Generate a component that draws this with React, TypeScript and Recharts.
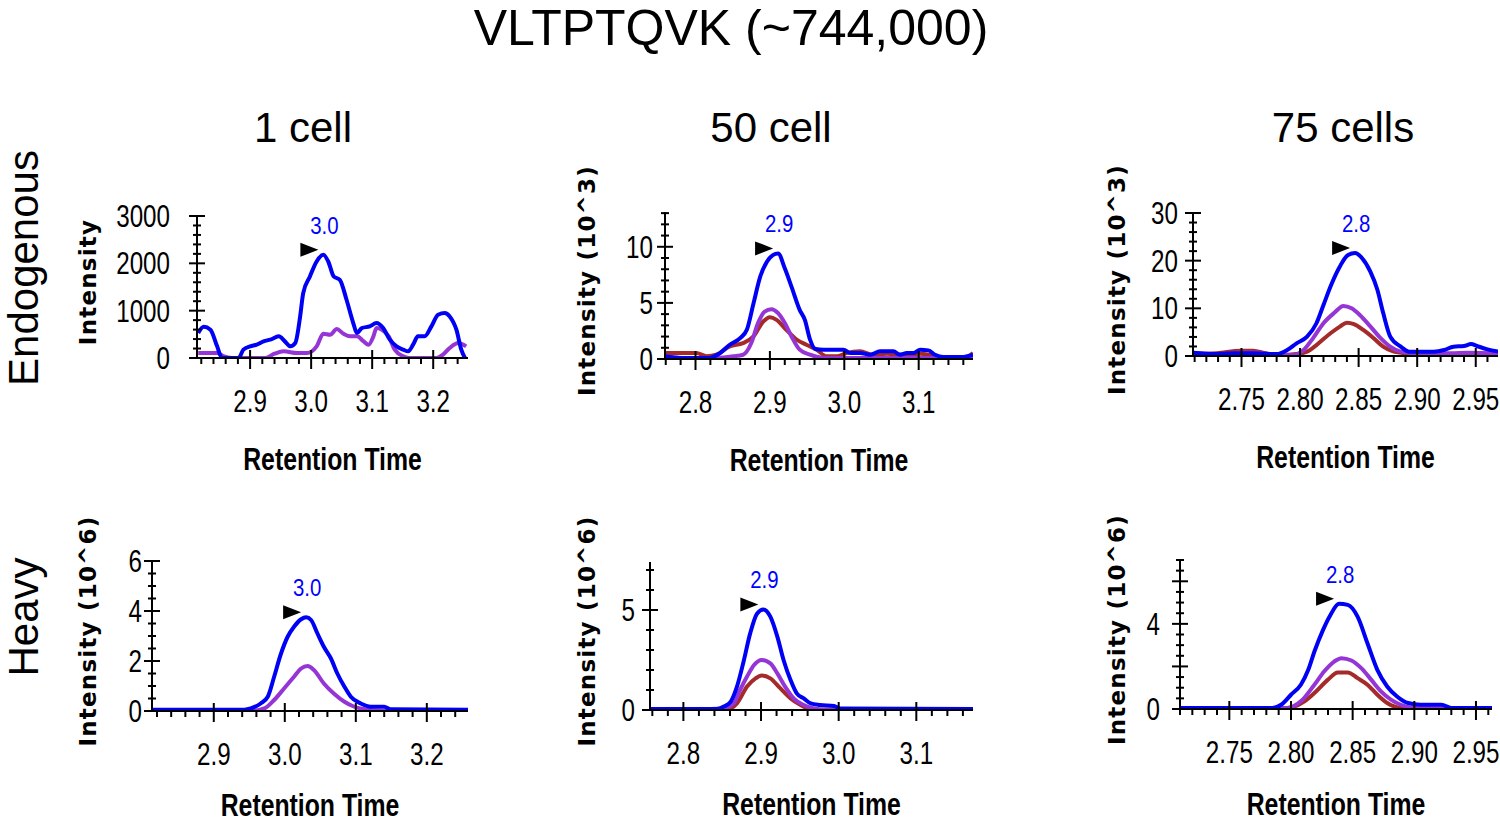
import React from 'react'
import { LineChart, Line, XAxis, YAxis, ReferenceDot } from 'recharts'

type Pt = [number, number]

// [retention time, intensity]
const END_1CELL_PURPLE: Pt[] = [
  [2.815, 105], [2.846, 105], [2.856, 40], [2.87, 0], [2.925, 0], [2.94, 90], [2.955, 141],
  [2.977, 105], [2.993, 105], [3.009, 246], [3.02, 513], [3.031, 492], [3.042, 611], [3.053, 513],
  [3.064, 457], [3.075, 457], [3.086, 351], [3.094, 281], [3.102, 457], [3.107, 633], [3.116, 598],
  [3.127, 457], [3.137, 176], [3.151, 35], [3.16, 0], [3.205, 0], [3.216, 70], [3.227, 211],
  [3.241, 316], [3.254, 246],
]
const END_1CELL_BLUE: Pt[] = [
  [2.815, 527], [2.824, 660], [2.835, 598], [2.846, 246], [2.854, 0], [2.881, 0], [2.889, 176],
  [2.9, 246], [2.911, 281], [2.922, 351], [2.933, 387], [2.947, 457], [2.957, 351], [2.966, 246],
  [2.974, 316], [2.982, 879], [2.987, 1371], [2.998, 1722], [3.009, 2039], [3.02, 2179],
  [3.028, 2039], [3.037, 1722], [3.047, 1652], [3.058, 1230], [3.069, 738], [3.075, 527],
  [3.083, 633], [3.096, 668], [3.107, 738], [3.118, 633], [3.129, 387], [3.14, 246], [3.151, 176],
  [3.159, 141], [3.167, 281], [3.175, 457], [3.186, 457], [3.197, 668], [3.208, 914], [3.219, 949],
  [3.227, 879], [3.238, 598], [3.246, 176], [3.252, 0],
]

const END_50CELL_RED: Pt[] = [
  [2.759, 0.53], [2.801, 0.53], [2.815, 0.24], [2.828, 0.38], [2.846, 1.12], [2.864, 1.42],
  [2.878, 2.01], [2.891, 3.34], [2.9, 3.73], [2.909, 3.49], [2.922, 2.6], [2.936, 1.72],
  [2.949, 1.27], [2.963, 0.83], [2.976, 0.24], [2.99, 0.24], [3.003, 0.53], [3.021, 0.68],
  [3.039, 0.38], [3.057, 0.47], [3.079, 0.38], [3.102, 0.47], [3.12, 0.3], [3.138, 0.1],
  [3.16, 0.1], [3.173, 0.53],
]
const END_50CELL_PURPLE: Pt[] = [
  [2.759, 0.24], [2.782, 0.1], [2.828, 0.1], [2.851, 0.24], [2.864, 0.38], [2.875, 1.42],
  [2.884, 3.2], [2.893, 4.23], [2.902, 4.44], [2.911, 4.08], [2.92, 3.2], [2.929, 2.01],
  [2.94, 0.83], [2.954, 0.38], [2.972, 0.1], [3.173, 0.1],
]
const END_50CELL_BLUE: Pt[] = [
  [2.759, 0.24], [2.779, 0.1], [2.819, 0.1], [2.833, 0.53], [2.846, 1.27], [2.86, 1.86],
  [2.869, 2.6], [2.878, 4.97], [2.887, 7.34], [2.896, 8.67], [2.904, 9.26], [2.911, 9.41],
  [2.92, 8.08], [2.929, 6.45], [2.94, 4.38], [2.947, 3.49], [2.954, 1.72], [2.961, 0.89],
  [2.972, 0.83], [2.999, 0.83], [3.008, 0.53], [3.021, 0.53], [3.035, 0.38], [3.048, 0.68],
  [3.066, 0.68], [3.075, 0.38], [3.084, 0.53], [3.093, 0.53], [3.102, 0.83], [3.113, 0.77],
  [3.122, 0.38], [3.133, 0.18], [3.16, 0.18], [3.173, 0.38],
]

const END_75CELL_RED: Pt[] = [
  [2.709, 0.4], [2.729, 0.56], [2.749, 1.12], [2.76, 1.12], [2.771, 0.56], [2.783, 0.2],
  [2.797, 0.4], [2.806, 0.91], [2.814, 2.3], [2.826, 4.77], [2.834, 6.17], [2.84, 7.0],
  [2.846, 6.7], [2.854, 5.47], [2.863, 3.7], [2.871, 1.96], [2.88, 0.91], [2.891, 0.56],
  [2.914, 0.4], [2.943, 0.4], [2.969, 0.56],
]
const END_75CELL_PURPLE: Pt[] = [
  [2.709, 0.56], [2.732, 0.4], [2.749, 0.7], [2.763, 0.7], [2.78, 0.2], [2.794, 0.2],
  [2.803, 1.26], [2.811, 3.7], [2.82, 6.87], [2.829, 9.0], [2.837, 10.5], [2.844, 10.0],
  [2.851, 8.6], [2.86, 6.2], [2.869, 3.7], [2.877, 1.96], [2.886, 0.91], [2.9, 0.56],
  [2.929, 0.56], [2.943, 0.7], [2.969, 0.56],
]
const END_75CELL_BLUE: Pt[] = [
  [2.709, 0.7], [2.726, 0.4], [2.743, 0.56], [2.76, 0.56], [2.78, 0.4], [2.789, 1.26],
  [2.797, 2.66], [2.806, 4.06], [2.814, 6.87], [2.82, 10.7], [2.826, 14.6], [2.834, 18.8],
  [2.841, 21.2], [2.847, 21.6], [2.853, 20.5], [2.86, 17.7], [2.866, 13.9], [2.871, 9.0],
  [2.877, 4.06], [2.886, 1.96], [2.893, 0.91], [2.914, 0.91], [2.923, 1.26], [2.931, 1.96],
  [2.94, 2.1], [2.946, 2.5], [2.951, 2.1], [2.96, 1.4], [2.969, 0.91],
]

const HEAVY_1CELL_PURPLE: Pt[] = [
  [2.813, 0], [2.952, 0], [2.971, 0.1], [2.985, 0.44], [2.999, 0.9], [3.013, 1.37], [3.023, 1.7],
  [3.032, 1.8], [3.041, 1.64], [3.055, 1.1], [3.069, 0.7], [3.084, 0.37], [3.098, 0.17],
  [3.112, 0.07], [3.14, 0], [3.259, 0],
]
const HEAVY_1CELL_BLUE: Pt[] = [
  [2.813, 0.05], [2.943, 0.05], [2.952, 0.1], [2.966, 0.3], [2.976, 0.57], [2.985, 1.37],
  [2.994, 2.24], [3.004, 2.97], [3.013, 3.37], [3.023, 3.67], [3.03, 3.75], [3.037, 3.64],
  [3.046, 3.1], [3.055, 2.57], [3.065, 2.1], [3.074, 1.5], [3.084, 0.97], [3.093, 0.57],
  [3.107, 0.3], [3.121, 0.17], [3.14, 0.17], [3.149, 0.07], [3.259, 0.05],
]

const HEAVY_50CELL_RED: Pt[] = [
  [2.758, 0], [2.856, 0.03], [2.869, 0.33], [2.882, 1.17], [2.893, 1.58], [2.901, 1.72],
  [2.912, 1.58], [2.925, 1.08], [2.938, 0.58], [2.951, 0.25], [2.964, 0.03], [3.173, 0],
]
const HEAVY_50CELL_PURPLE: Pt[] = [
  [2.758, 0], [2.852, 0.08], [2.865, 0.33], [2.873, 1.0], [2.882, 1.67], [2.891, 2.25],
  [2.901, 2.5], [2.912, 2.33], [2.921, 1.83], [2.931, 1.17], [2.942, 0.58], [2.955, 0.25],
  [2.968, 0.08], [2.98, 0], [3.173, 0],
]
const HEAVY_50CELL_BLUE: Pt[] = [
  [2.758, 0.05], [2.843, 0.05], [2.852, 0.17], [2.861, 0.42], [2.869, 1.17], [2.878, 2.5],
  [2.886, 3.83], [2.895, 4.83], [2.903, 5.03], [2.912, 4.67], [2.921, 3.67], [2.929, 2.5],
  [2.938, 1.5], [2.946, 0.83], [2.955, 0.58], [2.964, 0.33], [2.976, 0.25], [2.994, 0.2],
  [3.002, 0.08], [3.173, 0.05],
]

const HEAVY_75CELL_RED: Pt[] = [
  [2.71, 0], [2.797, 0.05], [2.811, 0.36], [2.819, 0.75], [2.83, 1.38], [2.838, 1.72],
  [2.846, 1.72], [2.854, 1.45], [2.862, 1.14], [2.87, 0.67], [2.878, 0.28], [2.889, 0.05],
  [2.963, 0],
]
const HEAVY_75CELL_PURPLE: Pt[] = [
  [2.71, 0], [2.797, 0.05], [2.808, 0.36], [2.819, 1.14], [2.827, 1.77], [2.835, 2.23],
  [2.841, 2.39], [2.849, 2.28], [2.857, 1.92], [2.865, 1.38], [2.873, 0.83], [2.881, 0.44],
  [2.889, 0.2], [2.9, 0.05], [2.963, 0],
]
const HEAVY_75CELL_BLUE: Pt[] = [
  [2.71, 0.05], [2.785, 0.05], [2.792, 0.2], [2.8, 0.67], [2.808, 1.14], [2.814, 1.84],
  [2.819, 2.7], [2.826, 3.72], [2.832, 4.42], [2.839, 4.94], [2.846, 4.89], [2.854, 4.34],
  [2.862, 3.09], [2.87, 1.84], [2.878, 1.06], [2.886, 0.59], [2.895, 0.28], [2.905, 0.2],
  [2.922, 0.2], [2.93, 0.05], [2.963, 0.05],
]

const TITLE = 'VLTPTQVK (~744,000)'
const COL_HEADERS = ['1 cell', '50 cell', '75 cells']
const ROW_LABELS = ['Endogenous', 'Heavy']
const PEAK_LABELS = ['3.0', '2.9', '2.8', '3.0', '2.9', '2.8']
const Y_TITLES = [
  'Intensity', 'Intensity (10^3)', 'Intensity (10^3)',
  'Intensity (10^6)', 'Intensity (10^6)', 'Intensity (10^6)',
]
const X_TITLE = 'Retention Time'

const X_MAJOR_A = [2.9, 3.0, 3.1, 3.2]
const X_MAJOR_B = [2.8, 2.9, 3.0, 3.1]
const X_MAJOR_C = [2.75, 2.8, 2.85, 2.9, 2.95]
const Y_MAJOR = [[0, 1000, 2000, 3000], [0, 5, 10], [0, 10, 20, 30], [0, 2, 4, 6], [0, 5], [0, 2, 4, 6]]
const Y_LABELED = [[0, 1000, 2000, 3000], [0, 5, 10], [0, 10, 20, 30], [0, 2, 4, 6], [0, 5], [0, 4]]

const COLORS: Record<string, string> = {
  red: '#A52A2A',
  purple: '#9635D6',
  blue: '#0000F5',
}

const FONT = "'Liberation Sans', Arial, sans-serif"
const BOLD_WIDE = "'DejaVu Sans', Verdana, sans-serif"

const PAD_L = 130
const PAD_T = 75
const PAD_R = 12
const PAD_B = 125

// plot rectangles in page pixels + axis setup
const PANELS = [
  { x0: 197, x1: 468, y0: 216, y1: 358, xDomain: [2.813, 3.257], xMinor: [2.82, 3.24, 0.02], xMajor: X_MAJOR_A, xDigits: 1, yMax: 3000, yStep: 200, yGap: 27, yTitleX: 96, xTitleDy: 112,
    series: [[END_1CELL_PURPLE, 'purple'], [END_1CELL_BLUE, 'blue']] },
  { x0: 665, x1: 973, y0: 212, y1: 359, xDomain: [2.759, 3.173], xMinor: [2.76, 3.16, 0.02], xMajor: X_MAJOR_B, xDigits: 1, yMax: 13.1, yStep: 1, yGap: 12, yTitleX: 595, xTitleDy: 112,
    series: [[END_50CELL_RED, 'red'], [END_50CELL_PURPLE, 'purple'], [END_50CELL_BLUE, 'blue']] },
  { x0: 1193, x1: 1498, y0: 213, y1: 356, xDomain: [2.7086, 2.969], xMinor: [2.71, 2.96, 0.01], xMajor: X_MAJOR_C, xDigits: 2, yMax: 30, yStep: 2, yGap: 15, yTitleX: 1125, xTitleDy: 112,
    series: [[END_75CELL_RED, 'red'], [END_75CELL_PURPLE, 'purple'], [END_75CELL_BLUE, 'blue']] },
  { x0: 152, x1: 468, y0: 561, y1: 711, xDomain: [2.813, 3.258], xMinor: [2.82, 3.24, 0.02], xMajor: X_MAJOR_A, xDigits: 1, yMax: 6, yStep: 0.5, yGap: 10, yTitleX: 96, xTitleDy: 105,
    series: [[HEAVY_1CELL_PURPLE, 'purple'], [HEAVY_1CELL_BLUE, 'blue']] },
  { x0: 650, x1: 973, y0: 562, y1: 710, xDomain: [2.757, 3.173], xMinor: [2.76, 3.16, 0.02], xMajor: X_MAJOR_B, xDigits: 1, yMax: 7.4, yStep: 1, yGap: 15, yTitleX: 595, xTitleDy: 105,
    series: [[HEAVY_50CELL_RED, 'red'], [HEAVY_50CELL_PURPLE, 'purple'], [HEAVY_50CELL_BLUE, 'blue']] },
  { x0: 1180, x1: 1492, y0: 560, y1: 709, xDomain: [2.71, 2.963], xMinor: [2.71, 2.96, 0.01], xMajor: X_MAJOR_C, xDigits: 2, yMax: 7, yStep: 0.5, yGap: 20, yTitleX: 1125, xTitleDy: 106,
    series: [[HEAVY_75CELL_RED, 'red'], [HEAVY_75CELL_PURPLE, 'purple'], [HEAVY_75CELL_BLUE, 'blue']] },
]

const steps = (from: number, to: number, step: number) => {
  const out: number[] = []
  const n = Math.round((to - from) / step)
  for (let i = 0; i <= n; i++) out.push(Math.round((from + i * step) * 1000) / 1000)
  return out
}
const has = (list: number[], v: number) => list.some((m) => Math.abs(m - v) < 1e-6)

const NarrowText = ({ x, y, size, anchor = 'middle', bold = false, fill = '#000', sx = 0.78, children }: any) => (
  <text
    transform={`translate(${x},${y}) scale(${sx},1)`}
    textAnchor={anchor}
    fontSize={size}
    fontFamily={FONT}
    fontWeight={bold ? 700 : 400}
    fill={fill}
  >
    {children}
  </text>
)

const XTick = ({ x, y, payload, majors, digits }: any) => {
  const v = payload.value
  const major = has(majors, v)
  return (
    <g>
      {major
        ? <line x1={x} x2={x} y1={y - 8} y2={y + 11} stroke="#000" strokeWidth={2} />
        : <line x1={x} x2={x} y1={y} y2={y + 6} stroke="#000" strokeWidth={2} />}
      {major && <NarrowText x={x} y={y + 54} size={31}>{v.toFixed(digits)}</NarrowText>}
    </g>
  )
}

const YTick = ({ x, y, payload, majors, labeled, gap }: any) => {
  const v = payload.value
  const major = has(majors, v)
  const w = major ? 8 : 4
  return (
    <g>
      <line x1={x - w} x2={x + w} y1={y} y2={y} stroke="#000" strokeWidth={2} />
      {has(labeled, v) && (
        <NarrowText x={x - gap} y={y + 11} size={31} anchor="end">{String(v)}</NarrowText>
      )}
    </g>
  )
}

const PeakMark = ({ cx, cy, text }: any) => (
  <g>
    <polygon points={`${cx - 23},${cy - 12} ${cx - 5},${cy - 5} ${cx - 23},${cy + 2}`} fill="#000" />
    <NarrowText x={cx + 1} y={cy - 21} size={24} sx={0.85} fill="#0000FF">{text}</NarrowText>
  </g>
)

const Panel = ({ idx }: { idx: number }) => {
  const p: any = PANELS[idx]
  const width = p.x1 - p.x0 + PAD_L + PAD_R
  const height = p.y1 - p.y0 + PAD_T + PAD_B
  const blue: Pt[] = p.series[p.series.length - 1][0]
  const peak = blue.reduce((a: Pt, b: Pt) => (b[1] > a[1] ? b : a))
  const yTicks = steps(0, Math.floor(p.yMax / p.yStep) * p.yStep, p.yStep)
  const xTicks = steps(p.xMinor[0], p.xMinor[1], p.xMinor[2])
  const yTitleOffset = p.x0 - p.yTitleX

  return (
    <div style={{ position: 'absolute', left: p.x0 - PAD_L, top: p.y0 - PAD_T }}>
      <LineChart width={width} height={height} margin={{ top: PAD_T, right: PAD_R, bottom: 0, left: 0 }}>
        <XAxis
          type="number"
          dataKey="t"
          domain={p.xDomain}
          allowDataOverflow
          ticks={xTicks}
          interval={0}
          height={PAD_B}
          tickSize={0}
          tickMargin={0}
          tickLine={false}
          axisLine={{ stroke: '#000', strokeWidth: 2 }}
          tick={(props: any) => <XTick {...props} majors={p.xMajor} digits={p.xDigits} />}
          label={(props: any) => {
            const vb = props.viewBox
            return (
              <NarrowText x={vb.x + vb.width / 2} y={vb.y + p.xTitleDy} size={31} sx={0.8} bold>
                {X_TITLE}
              </NarrowText>
            )
          }}
        />
        <YAxis
          type="number"
          dataKey="v"
          domain={[0, p.yMax]}
          allowDataOverflow
          ticks={yTicks}
          interval={0}
          width={PAD_L}
          tickSize={0}
          tickMargin={0}
          tickLine={false}
          axisLine={{ stroke: '#000', strokeWidth: 2 }}
          tick={(props: any) => (
            <YTick {...props} majors={Y_MAJOR[idx]} labeled={Y_LABELED[idx]} gap={p.yGap} />
          )}
          label={(props: any) => {
            const vb = props.viewBox
            const bx = vb.x + vb.width - yTitleOffset
            const cy = vb.y + vb.height / 2 - 5
            return (
              <text
                transform={`translate(${bx},${cy}) rotate(-90)`}
                textAnchor="middle"
                fontSize={23}
                fontWeight={700}
                letterSpacing={1.2}
                fontFamily={BOLD_WIDE}
                fill="#000"
              >
                {Y_TITLES[idx]}
              </text>
            )
          }}
        />
        {p.series.map(([pts, color]: [Pt[], string]) => (
          <Line
            key={color}
            data={pts.map(([t, v]) => ({ t, v }))}
            dataKey="v"
            type="monotone"
            stroke={COLORS[color]}
            strokeWidth={4}
            strokeLinejoin="round"
            dot={false}
            activeDot={false}
            isAnimationActive={false}
          />
        ))}
        <ReferenceDot
          x={peak[0]}
          y={peak[1]}
          r={0}
          ifOverflow="visible"
          shape={(props: any) => <PeakMark {...props} text={PEAK_LABELS[idx]} />}
        />
      </LineChart>
    </div>
  )
}

const HEADER_X = [303, 771, 1343]
const ROW_Y = [268, 617]

export default function App() {
  return (
    <div
      style={{
        position: 'absolute',
        left: 0,
        top: 0,
        width: 1500,
        height: 825,
        overflow: 'hidden',
        background: '#fff',
      }}
    >
      <svg width={1500} height={825} style={{ position: 'absolute', left: 0, top: 0 }}>
        <text x={731} y={45} textAnchor="middle" fontSize={50} fontFamily={FONT} fill="#000">
          {TITLE}
        </text>
        {COL_HEADERS.map((h, i) => (
          <text key={h} x={HEADER_X[i]} y={142} textAnchor="middle" fontSize={42} fontFamily={FONT} fill="#000">
            {h}
          </text>
        ))}
        {ROW_LABELS.map((r, i) => (
          <text
            key={r}
            transform={`translate(38,${ROW_Y[i]}) rotate(-90)`}
            textAnchor="middle"
            fontSize={42}
            fontFamily={FONT}
            fill="#000"
          >
            {r}
          </text>
        ))}
      </svg>
      {PANELS.map((_, i) => (
        <Panel key={i} idx={i} />
      ))}
    </div>
  )
}
